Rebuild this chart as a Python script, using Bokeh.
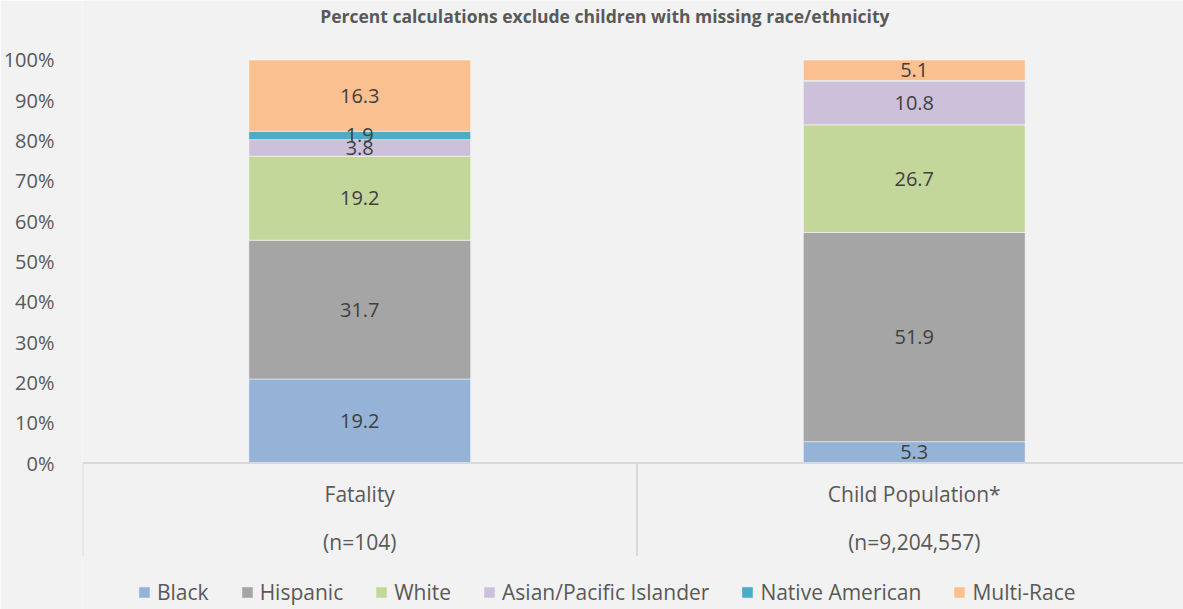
from bokeh.plotting import figure
from bokeh.models import (ColumnDataSource, Range1d, FixedTicker, Legend, LegendItem)
from bokeh.core.properties import value
from bokeh.embed import file_html
from bokeh.resources import INLINE

# ---- data ----
title_text = "Percent calculations exclude children with missing race/ethnicity"
groups = ["Fatality", "Child Population*"]
group_n = ["(n=104)", "(n=9,204,557)"]
races = ["Black", "Hispanic", "White", "Asian/Pacific Islander", "Native American", "Multi-Race"]
fatality = [19.2, 31.7, 19.2, 3.8, 1.9, 16.3]
child_pop = [5.3, 51.9, 26.7, 10.8, 0.2, 5.1]
colors = ["#95B3D7", "#A5A5A5", "#C4D79B", "#CCC0DA", "#4BACC6", "#FAC090"]
y_ticks = [0, 10, 20, 30, 40, 50, 60, 70, 80, 90, 100]

series = [fatality, child_pop]
xpos = [0.5, 1.5]

# normalized (100% stacked)
norm = []
for s in series:
    tot = sum(s)
    norm.append([v / tot * 100 for v in s])

data = {"x": xpos}
for i, r in enumerate(races):
    data[r] = [norm[g][i] for g in range(len(groups))]
src = ColumnDataSource(data)

FONT = "Open Sans"
BG = "#F2F2F2"

p = figure(width=1183, height=609, output_backend="svg", toolbar_location=None,
           x_range=Range1d(0, 1.9856), y_range=Range1d(-36.35, 114.76),
           min_border_left=81, min_border_right=0, min_border_top=0, min_border_bottom=0,
           background_fill_color=BG, border_fill_color=BG, outline_line_color=None)

rends = p.vbar_stack(races, x="x", width=0.4, source=src, color=colors,
                     line_color="white", line_width=0.8, line_alpha=0.6)

# data labels
lx, ly, lt = [], [], []
for g in range(len(groups)):
    cum = 0
    for i in range(len(races)):
        v = norm[g][i]
        if series[g][i] >= 0.5:
            lx.append(xpos[g]); ly.append(cum + v / 2); lt.append(f"{series[g][i]:.1f}")
        cum += v
p.text(x=lx, y=ly, text=lt, text_align="center", text_baseline="middle",
       text_font=value(FONT), text_font_size="20px", text_color="#404040")

# category box
axis_col = "#D9D9D9"
p.segment(x0=[0], y0=[0], x1=[1.9856], y1=[0], line_color=axis_col, line_width=2)
p.segment(x0=[0, 1], y0=[0, 0], x1=[0, 1], y1=[-23.1, -23.1], line_color=axis_col, line_width=2)
p.text(x=xpos, y=[-7.7] * 2, text=groups, text_align="center", text_baseline="middle",
       text_font=value(FONT), text_font_size="21px", text_color="#595959")
p.text(x=xpos, y=[-19.6] * 2, text=group_n, text_align="center", text_baseline="middle",
       text_font=value(FONT), text_font_size="21px", text_color="#595959")

# chart title
p.text(x=[0.942], y=[110.8], text=[title_text], text_align="center", text_baseline="middle",
       text_font=value(FONT), text_font_size="17.5px", text_font_style="bold",
       text_color="#595959")

# axes
p.xaxis.visible = False
p.xgrid.visible = False
p.ygrid.visible = False
p.yaxis.ticker = FixedTicker(ticks=y_ticks)
p.yaxis.major_label_overrides = {t: f"{t}%" for t in y_ticks}
p.yaxis.axis_line_color = None
p.yaxis.major_tick_line_color = None
p.yaxis.minor_tick_line_color = None
p.yaxis.major_label_standoff = 22
p.yaxis.major_label_text_font = FONT
p.yaxis.major_label_text_font_size = "20px"
p.yaxis.major_label_text_color = "#595959"

legend = Legend(items=[LegendItem(label=r, renderers=[rd]) for r, rd in zip(races, rends)],
                orientation="horizontal", location=(55, 3),
                glyph_width=14, glyph_height=14, label_standoff=6, spacing=31,
                padding=0, margin=0, border_line_color=None, background_fill_alpha=0,
                label_text_font=FONT, label_text_font_size="21px", label_text_color="#595959")
p.add_layout(legend, "center")

open("out.html", "w").write(file_html(p, INLINE))
